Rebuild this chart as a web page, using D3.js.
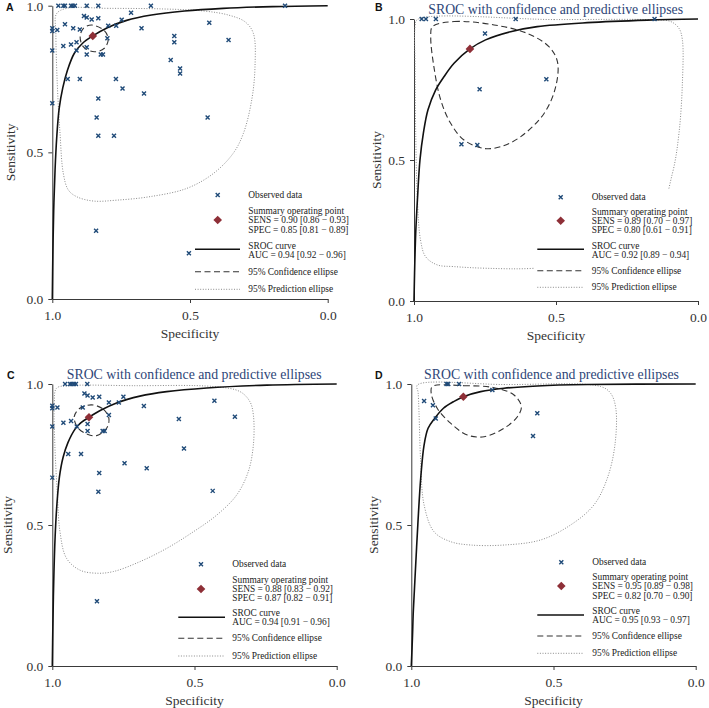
<!DOCTYPE html>
<html><head><meta charset="utf-8">
<script src="https://cdn.jsdelivr.net/npm/d3@7"></script>
<style>body{margin:0;background:#fff;} svg{display:block;}</style>
</head><body>
<svg id="chart" width="709" height="708"></svg>
<script>
// ---------- data (specificity, sensitivity) ----------
const tickValues = [0, 0.5, 1];
const panelIds = ["A", "B", "C", "D"];
const panelTitles = ["", "SROC with confidence and predictive ellipses", "SROC with confidence and predictive ellipses", "SROC with confidence and predictive ellipses"];
const legendLabels = ["Observed data", "Summary operating point", "SROC curve", "95% Confidence ellipse", "95% Prediction ellipse"];

const observedA = [[0.978,1],[0.960,1],[0.954,1],[0.932,1],[0.926,1],[0.918,1],[0.875,1],[0.833,1],[0.642,1],[0.155,1],
 [1,0.923],[1,0.914],[0.982,0.917],[1,0.847],[1,0.667],[0.954,0.937],[0.960,0.863],[0.932,0.868],[0.924,0.923],
 [0.912,0.875],[0.912,0.847],[0.900,0.919],[0.885,0.965],[0.875,0.960],[0.857,0.953],[0.833,0.957],[0.875,0.858],
 [0.875,0.834],[0.824,0.834],[0.816,0.834],[0.800,0.889],[0.797,0.932],[0.768,0.932],[0.748,0.952],[0.714,0.976],
 [0.676,0.923],[0.944,0.75],[0.900,0.75],[0.769,0.75],[0.745,0.718],[0.667,0.701],[0.833,0.684],[0.839,0.619],
 [0.833,0.557],[0.776,0.557],[0.841,0.233],[0.504,0.156],[0.570,0.815],[0.557,0.897],[0.557,0.875],[0.536,0.786],
 [0.536,0.769],[0.430,0.942],[0.360,0.883],[0.436,0.619]];
const srocA = [[1,0],[0.998,0.15],[0.995,0.30],[0.990,0.44],[0.984,0.55],[0.975,0.65],[0.962,0.72],[0.945,0.78],
 [0.920,0.838],[0.890,0.872],[0.853,0.897],[0.800,0.925],[0.730,0.950],[0.640,0.968],[0.520,0.982],[0.380,0.991],[0.200,0.997],[0,1]];
const confA = [[0.857,0.934],[0.811,0.915],[0.797,0.885],[0.811,0.855],[0.847,0.843],[0.887,0.860],[0.899,0.894],[0.887,0.923]];
const predA = [[0.948,0.991],[0.800,0.991],[0.600,0.989],[0.450,0.982],[0.360,0.968],[0.300,0.945],[0.270,0.906],[0.264,0.792],
 [0.276,0.678],[0.306,0.565],[0.343,0.497],[0.415,0.428],[0.512,0.377],[0.645,0.349],[0.766,0.337],[0.851,0.334],
 [0.912,0.349],[0.942,0.372],[0.960,0.428],[0.972,0.565],[0.982,0.735],[0.987,0.906],[0.985,0.972]];
const summaryA = [0.853, 0.897];
const statsA = ["SENS = 0.90 [0.86 \u2212 0.93]", "SPEC = 0.85 [0.81 \u2212 0.89]", "AUC = 0.94 [0.92 \u2212 0.96]"];

const observedB = [[0.973,1],[0.958,1],[0.923,1],[0.642,1],[0.153,1],[0.750,0.949],[0.769,0.751],[0.534,0.786],[0.833,0.556],[0.777,0.553]];
const srocB = [[1,0],[0.998,0.10],[0.994,0.24],[0.988,0.358],[0.979,0.50],[0.967,0.595],[0.951,0.677],[0.924,0.748],
 [0.894,0.796],[0.859,0.843],[0.803,0.894],[0.748,0.926],[0.660,0.955],[0.566,0.973],[0.390,0.987],[0.178,0.996],[0,1]];
const confB = [[0.935,0.973],[0.859,0.991],[0.718,0.979],[0.601,0.949],[0.525,0.902],[0.495,0.849],[0.501,0.760],[0.542,0.665],
 [0.624,0.583],[0.695,0.547],[0.754,0.541],[0.824,0.571],[0.871,0.630],[0.906,0.713],[0.930,0.831],[0.941,0.937]];
const predB = [[0.988,0.998],[0.507,0.998],[0.155,0.997],[0.096,0.991],[0.067,0.967],[0.055,0.926],[0.055,0.772],[0.067,0.595],
 [0.090,0.453],[0.155,0.264],[0.331,0.145],[0.577,0.116],[0.742,0.116],[0.859,0.122],[0.918,0.128],[0.959,0.157],
 [0.977,0.216],[0.988,0.358],[0.994,0.595],[0.996,0.831],[0.996,0.973]];
const summaryB = [0.803, 0.894];
const statsB = ["SENS = 0.89 [0.70 \u2212 0.97]", "SPEC = 0.80 [0.61 \u2212 0.91]", "AUC = 0.92 [0.89 \u2212 0.94]"];

const observedC = [[0.955,1],[0.938,1],[0.932,1],[0.924,1],[0.917,1],[0.877,1],[1,0.923],[1,0.914],[0.982,0.917],[1,0.849],[1,0.668],
 [0.961,0.863],[0.934,0.869],[0.914,0.849],[0.893,0.917],[0.887,0.966],[0.876,0.959],[0.858,0.952],[0.835,0.955],
 [0.876,0.858],[0.876,0.833],[0.823,0.833],[0.816,0.833],[0.801,0.890],[0.801,0.934],[0.766,0.934],[0.750,0.955],
 [0.678,0.922],[0.555,0.876],[0.537,0.771],[0.430,0.941],[0.358,0.884],[0.944,0.752],[0.899,0.752],[0.746,0.719],
 [0.668,0.701],[0.835,0.684],[0.838,0.618],[0.436,0.621],[0.843,0.23]];
const srocC = [[1,0],[0.998,0.14],[0.995,0.30],[0.990,0.46],[0.984,0.57],[0.975,0.67],[0.962,0.74],[0.945,0.792],[0.920,0.84],
 [0.900,0.862],[0.871,0.882],[0.830,0.907],[0.774,0.933],[0.692,0.957],[0.598,0.973],[0.457,0.986],[0.246,0.996],[0,1]];
const confC = [[0.862,0.926],[0.821,0.911],[0.801,0.878],[0.809,0.843],[0.844,0.817],[0.877,0.822],[0.909,0.843],[0.923,0.884],[0.903,0.914]];
const predC = [[0.985,0.985],[0.940,0.994],[0.715,0.994],[0.434,0.991],[0.340,0.973],[0.305,0.937],[0.293,0.890],[0.293,0.784],
 [0.311,0.689],[0.352,0.606],[0.422,0.535],[0.504,0.476],[0.598,0.417],[0.692,0.370],[0.785,0.335],[0.844,0.329],
 [0.903,0.340],[0.950,0.382],[0.973,0.476],[0.982,0.606],[0.991,0.784],[0.993,0.926]];
const summaryC = [0.871, 0.882];
const statsC = ["SENS = 0.88 [0.83 \u2212 0.92]", "SPEC = 0.87 [0.82 \u2212 0.91]", "AUC = 0.94 [0.91 \u2212 0.96]"];

const observedD = [[0.876,1],[0.870,1],[0.832,1],[0.955,0.940],[0.924,0.925],[0.914,0.878],[0.715,0.979],[0.557,0.896],[0.572,0.816]];
const srocD = [[1,0],[0.996,0.10],[0.993,0.193],[0.987,0.311],[0.977,0.502],[0.967,0.665],[0.955,0.784],[0.941,0.843],[0.918,0.878],
 [0.887,0.914],[0.852,0.937],[0.817,0.955],[0.756,0.973],[0.674,0.985],[0.557,0.993],[0.381,0.998],[0,1]];
const confD = [[0.926,0.991],[0.815,0.994],[0.709,0.987],[0.639,0.961],[0.613,0.920],[0.627,0.884],[0.674,0.843],[0.744,0.813],
 [0.803,0.819],[0.862,0.861],[0.909,0.914],[0.930,0.967]];
const predD = [[0.979,0.996],[0.674,0.998],[0.334,0.991],[0.299,0.967],[0.281,0.914],[0.284,0.784],[0.311,0.665],[0.358,0.571],
 [0.440,0.500],[0.545,0.447],[0.674,0.429],[0.791,0.429],[0.862,0.441],[0.920,0.476],[0.955,0.571],[0.967,0.724],[0.973,0.902],[0.976,0.97]];
const summaryD = [0.817, 0.955];
const statsD = ["SENS = 0.95 [0.89 \u2212 0.98]", "SPEC = 0.82 [0.70 \u2212 0.90]", "AUC = 0.95 [0.93 \u2212 0.97]"];

// ---------- layout ----------
const layout = {
  A: {x:[52.3,327.7], y:[299,5.7], ylab:14.5, xlab:338, letter:[6,10.5], titleX:190, titleY:14,
      lg:{lx1:195, lx2:240, mx:217.7, tx:248.3, obs:195, sum:[210.7,220,230], sroc:[246,255], srocLine:249.3, conf:271.7, pred:289.3}},
  B: {x:[414,698], y:[301,19], ylab:380.5, xlab:340, letter:[375,10.5], titleX:555.7, titleY:14,
      lg:{lx1:537.3, lx2:584, mx:560.7, tx:591.7, obs:197.3, sum:[211.5,220.8,230], sroc:[246,255], srocLine:249.3, conf:270.7, pred:287.3}},
  C: {x:[52.3,336.7], y:[666,384], ylab:11.5, xlab:705, letter:[7,379], titleX:194.2, titleY:378.5,
      lg:{lx1:178.3, lx2:225, mx:201, tx:232.3, obs:564.3, sum:[579.6,589,598.3], sroc:[612.7,621.7], srocLine:617.3, conf:638.3, pred:656}},
  D: {x:[411.3,695.7], y:[666,384], ylab:378, xlab:705, letter:[375,379], titleX:551.5, titleY:378.5,
      lg:{lx1:537.3, lx2:584, mx:561.3, tx:592.3, obs:562.3, sum:[576.5,586,595.5], sroc:[610.7,620], srocLine:615, conf:636, pred:653.3}}
};

const serif = "'Liberation Serif','Times New Roman',serif";
const navy = "#1f4a78", maroon = "#8e2f37";
const svg = d3.select("#chart");
svg.append("rect").attr("width", 709).attr("height", 708).attr("fill", "#fff");

const datasets = {
  A: {obs: observedA, sroc: srocA, conf: confA, pred: predA, summary: summaryA, stats: statsA},
  B: {obs: observedB, sroc: srocB, conf: confB, pred: predB, summary: summaryB, stats: statsB},
  C: {obs: observedC, sroc: srocC, conf: confC, pred: predC, summary: summaryC, stats: statsC},
  D: {obs: observedD, sroc: srocD, conf: confD, pred: predD, summary: summaryD, stats: statsD}
};

const crossPath = s => `M${-s},${-s}L${s},${s}M${-s},${s}L${s},${-s}`;
const diamondPath = s => `M0,${-s}L${s},0L0,${s}L${-s},0Z`;

panelIds.forEach((id, i) => {
  const L = layout[id], D = datasets[id];
  const g = svg.append("g");
  const x = d3.scaleLinear().domain([1, 0]).range(L.x);
  const y = d3.scaleLinear().domain([0, 1]).range(L.y);

  // axes
  const ax = g.append("g").attr("transform", `translate(0,${L.y[0]})`)
    .call(d3.axisBottom(x).tickValues(tickValues).tickFormat(d3.format(".1f")).tickSize(4).tickPadding(7).tickSizeOuter(0));
  const ay = g.append("g").attr("transform", `translate(${L.x[0]},0)`)
    .call(d3.axisLeft(y).tickValues(tickValues).tickFormat(d3.format(".1f")).tickSize(4).tickPadding(5).tickSizeOuter(0));
  [ax, ay].forEach(a => {
    a.attr("font-family", serif).attr("font-size", 13.5);
    a.selectAll("path,line").attr("stroke", "#3a3a3a").attr("stroke-width", 1);
    a.selectAll("text").attr("fill", "#333");
  });

  // axis titles
  g.append("text").attr("transform", `translate(${L.ylab},${(L.y[0] + L.y[1]) / 2}) rotate(-90)`)
    .attr("text-anchor", "middle").attr("font-family", serif).attr("font-size", 13.5).attr("fill", "#333").text("Sensitivity");
  g.append("text").attr("x", (L.x[0] + L.x[1]) / 2).attr("y", L.xlab)
    .attr("text-anchor", "middle").attr("font-family", serif).attr("font-size", 13.5).attr("fill", "#333").text("Specificity");

  // panel letter and title
  g.append("text").attr("x", L.letter[0]).attr("y", L.letter[1]).attr("font-family", "'Liberation Sans',Arial,sans-serif")
    .attr("font-weight", "bold").attr("font-size", 10.5).attr("fill", "#111").text(id);
  if (panelTitles[i]) {
    g.append("text").attr("x", L.titleX).attr("y", L.titleY).attr("text-anchor", "middle")
      .attr("font-family", serif).attr("font-size", 13.8).attr("fill", "#2e4678").text(panelTitles[i]);
  }

  const closed = d3.line().x(d => x(d[0])).y(d => y(d[1])).curve(d3.curveCatmullRomClosed.alpha(0.5));
  const open = d3.line().x(d => x(d[0])).y(d => y(d[1])).curve(d3.curveCatmullRom.alpha(0.5));

  g.append("path").attr("d", closed(D.pred)).attr("fill", "none").attr("stroke", "#8a8a8a")
    .attr("stroke-width", 1).attr("stroke-dasharray", "1,1.6");
  g.append("path").attr("d", closed(D.conf)).attr("fill", "none").attr("stroke", "#333")
    .attr("stroke-width", 1.1).attr("stroke-dasharray", "6,3.5");
  g.append("path").attr("d", open(D.sroc)).attr("fill", "none").attr("stroke", "#111").attr("stroke-width", 1.6);

  g.append("g").selectAll("path").data(D.obs).join("path")
    .attr("transform", d => `translate(${x(d[0])},${y(d[1])})`)
    .attr("d", crossPath(2)).attr("stroke", navy).attr("stroke-width", 1.4).attr("fill", "none");

  g.append("path").attr("transform", `translate(${x(D.summary[0])},${y(D.summary[1])})`)
    .attr("d", diamondPath(4.3)).attr("fill", maroon);

  // legend
  const lg = L.lg;
  const leg = g.append("g").attr("font-family", serif).attr("font-size", 9.4).attr("fill", "#222");
  leg.append("rect").attr("x", lg.lx1 - 3).attr("y", lg.obs - 8).attr("width", lg.tx + 108 - (lg.lx1 - 3))
    .attr("height", lg.pred + 7 - (lg.obs - 8)).attr("fill", "#fff");
  const txt = (yy, s) => leg.append("text").attr("x", lg.tx).attr("y", yy).attr("dy", "0.34em").text(s);
  leg.append("path").attr("transform", `translate(${lg.mx},${lg.obs})`).attr("d", crossPath(2))
    .attr("stroke", navy).attr("stroke-width", 1.4).attr("fill", "none");
  txt(lg.obs, legendLabels[0]);
  leg.append("path").attr("transform", `translate(${lg.mx},${lg.sum[1]})`).attr("d", diamondPath(4.3)).attr("fill", maroon);
  txt(lg.sum[0], legendLabels[1]); txt(lg.sum[1], D.stats[0]); txt(lg.sum[2], D.stats[1]);
  leg.append("line").attr("x1", lg.lx1).attr("x2", lg.lx2).attr("y1", lg.srocLine).attr("y2", lg.srocLine)
    .attr("stroke", "#111").attr("stroke-width", 1.6);
  txt(lg.sroc[0], legendLabels[2]); txt(lg.sroc[1], D.stats[2]);
  leg.append("line").attr("x1", lg.lx1).attr("x2", lg.lx2).attr("y1", lg.conf).attr("y2", lg.conf)
    .attr("stroke", "#333").attr("stroke-width", 1.1).attr("stroke-dasharray", "6,3.5");
  txt(lg.conf, legendLabels[3]);
  leg.append("line").attr("x1", lg.lx1).attr("x2", lg.lx2).attr("y1", lg.pred).attr("y2", lg.pred)
    .attr("stroke", "#8a8a8a").attr("stroke-width", 1).attr("stroke-dasharray", "1,1.6");
  txt(lg.pred, legendLabels[4]);
});
</script>
</body></html>
